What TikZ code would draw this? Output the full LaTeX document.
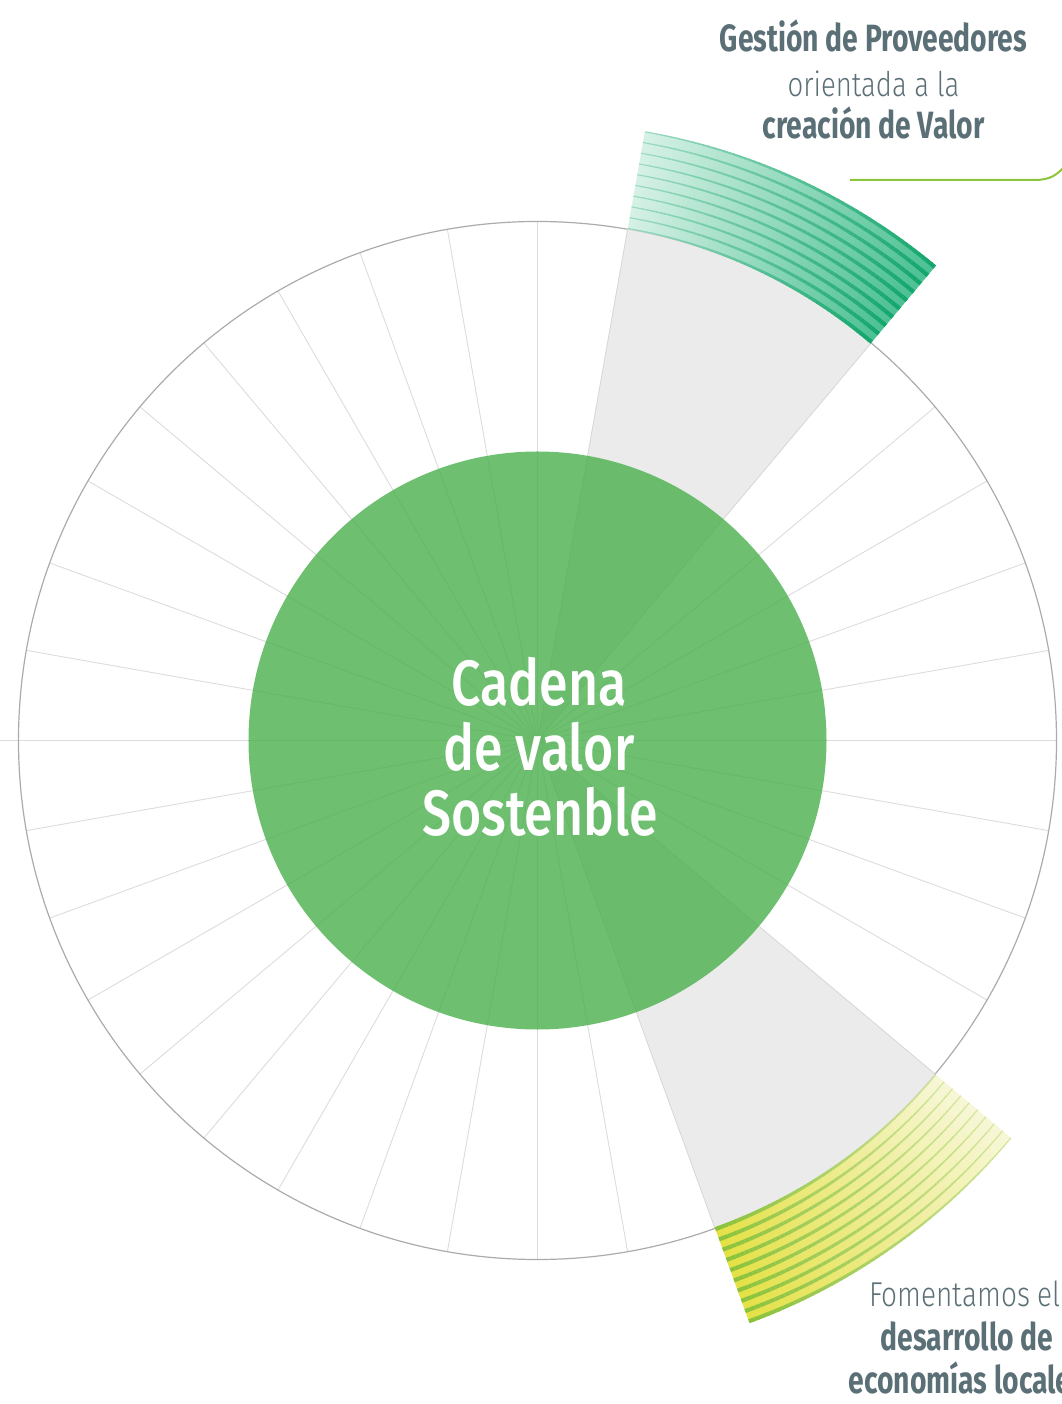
\documentclass[tikz,border=0pt]{standalone}
\usepackage{fontspec}
\newfontfamily\fcond{Fira Sans Medium}[FakeStretch=0.81]
\newfontfamily\fbold{Fira Sans}[FakeStretch=0.745]
\newfontfamily\flight{Fira Sans Light}[FakeStretch=0.81]
\definecolor{spokegray}{HTML}{DCDCDC}
\definecolor{ringgray}{HTML}{ABABAB}
\definecolor{sectorgray}{HTML}{EBEBEB}
\definecolor{sectoredge}{HTML}{D6D6D6}
\definecolor{centergreen}{RGB}{74,176,76}
\definecolor{textcol}{HTML}{5B7076}
\definecolor{calloutcol}{HTML}{8CC43C}
\definecolor{tBaseL}{HTML}{D6F1E6}
\definecolor{tBaseD}{HTML}{4CC193}
\definecolor{tLineL}{HTML}{9ADAC0}
\definecolor{tLineD}{HTML}{12A66C}
\definecolor{bBaseL}{HTML}{F7F7D8}
\definecolor{bBaseD}{HTML}{E4E146}
\definecolor{bLineL}{HTML}{D4E69A}
\definecolor{bLineD}{HTML}{8AC23C}
% #1 light-end angle, #2 dark-end angle, #3..#6 colours
\newcommand\drawband[6]{%
  \foreach \i in {0,...,59}{%
    \pgfmathsetmacro\aA{#1-\i*(#1-#2)/60}%
    \pgfmathsetmacro\aB{max(\aA-(#1-#2)/60-0.1,#2)}%
    \pgfmathsetmacro\p{(\i+0.5)*100/60}%
    \pgfmathsetmacro\lw{1.1+3.0*\p/100}%
    \colorlet{bc}{#4!\p!#3}%
    \colorlet{lc}{#6!\p!#5}%
    \fill[bc] (\aA:520) arc[start angle=\aA,end angle=\aB,radius=520]
      -- (\aB:618) arc[start angle=\aB,end angle=\aA,radius=618] -- cycle;
    \foreach \k in {0,...,9}{%
      \draw[lc,line width=\lw pt] (\aA:{520+\k*10.9})
        arc[start angle=\aA,end angle=\aB,radius={520+\k*10.9}];
    }%
  }%
}
\begin{document}
\begin{tikzpicture}[x=1pt,y=1pt,
  spoke/.style={draw=spokegray,line width=0.9pt},
  ring/.style={draw=ringgray,line width=1.2pt},
  sector/.style={fill=sectorgray,draw=sectoredge,line width=0.6pt},
  lbl/.style={text=textcol,inner sep=0pt,anchor=base},
  boldlbl/.style={lbl,font=\fbold\bfseries\fontsize{38}{38}\selectfont},
  ctext/.style={text=white,inner sep=0pt,anchor=base,font=\fcond\fontsize{64}{66}\selectfont},
  callout/.style={draw=calloutcol,line width=2pt}]
\useasboundingbox (-537.5,-663.5) rectangle (523.5,740.5);
\coordinate (O) at (0,0);
% spokes
\foreach \a in {0,10,...,350}{\draw[spoke] (O) -- (\a:519);}
\coordinate (leftend) at (-537.5,0);
\draw[spoke] (O) -- (leftend);
% outer ring
\draw[ring] (O) circle (519);
% grey sectors
\filldraw[sector] (O) -- (50:519) arc[start angle=50,end angle=80,radius=519] -- cycle;
\filldraw[sector] (O) -- (-70:519) arc[start angle=-70,end angle=-40,radius=519] -- cycle;
% striped bands
\drawband{80}{50}{tBaseL}{tBaseD}{tLineL}{tLineD}
\drawband{-40}{-70}{bBaseL}{bBaseD}{bLineL}{bLineD}
% centre disc
\fill[centergreen,opacity=0.8] (O) circle (289);
\node[ctext] (c1) at (1.5,34.5) {Cadena};
\node[ctext] (c2) at (1.5,-30.5) {de valor};
\node[ctext] (c3) at (2.5,-95.5) {Sostenble};
% top label
\node[boldlbl] (t1) at (336,688.5) {Gestión de Proveedores};
\node[lbl,font=\flight\fontsize{34}{34}\selectfont] (t2) at (336,643.5) {orientada a la};
\node[boldlbl] (t3) at (336,601.5) {creación de Valor};
% callout line
\coordinate (cA) at (312.5,560.5);
\coordinate (cM) at (497,560.5);
\coordinate (cB) at (527,574);
\draw[callout] (cA) -- (cM) .. controls (512,560.5) and (519,565) .. (cB);
% bottom label
\node[lbl,font=\flight\fontsize{34.5}{34.5}\selectfont] (b1) at (427.5,-565.5) {Fomentamos el};
\node[boldlbl] (b2) at (429.5,-609.5) {desarrollo de};
\node[boldlbl] (b3) at (429.5,-652.5) {economías locales};
\end{tikzpicture}
\end{document}
